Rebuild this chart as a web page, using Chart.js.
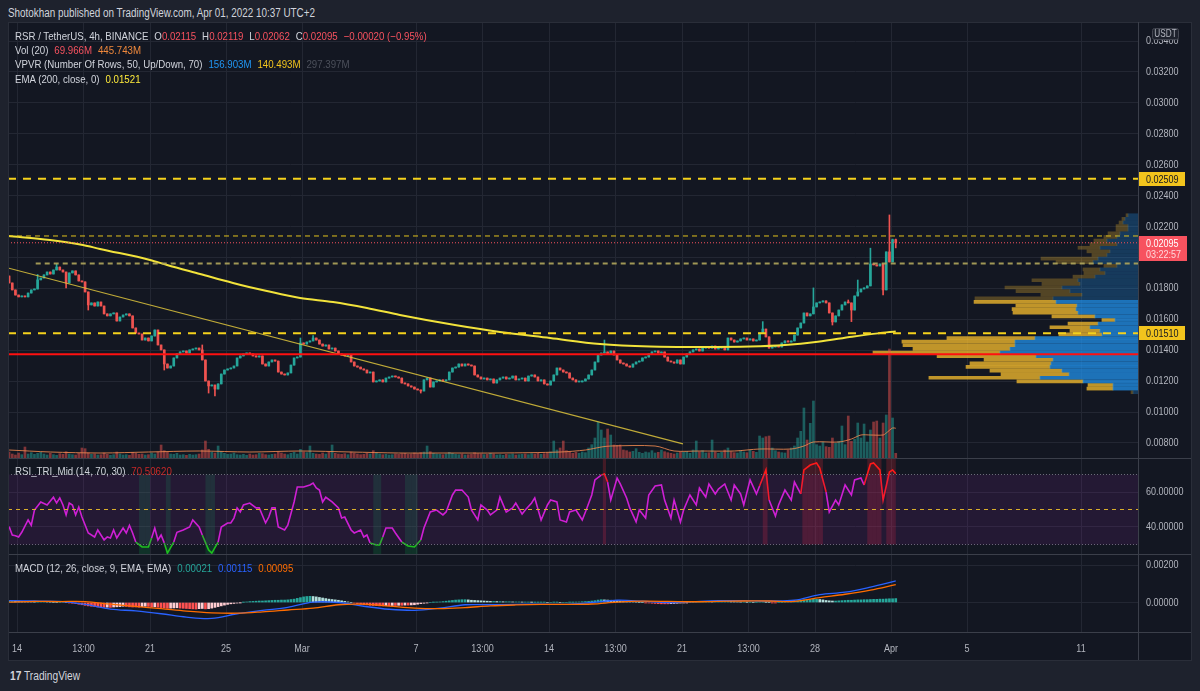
<!DOCTYPE html>
<html>
<head>
<meta charset="utf-8">
<title>RSR / TetherUS, 4h</title>
<script src="https://cdn.jsdelivr.net/npm/chart.js@4.4.1/dist/chart.umd.min.js"></script>
<style>
  body { margin: 0; width: 1200px; height: 691px; overflow: hidden; background: #1e222d;
         font-family: 'Liberation Sans', Arial, sans-serif; color: #d1d4dc; }
  #frame { position: absolute; left: 8px; top: 22px; width: 1184px; height: 638px; background: #131722; }
  canvas { position: absolute; left: 8px; }
  .hl { position: absolute; left: 8px; width: 1184px; height: 1px; background: #3b3f4a; }
  .vl { position: absolute; top: 22px; height: 638px; width: 1px; background: #3b3f4a; }
  .lg { position: absolute; left: 15px; font-size: 11.5px; line-height: 14px; white-space: nowrap;
        transform: scaleX(0.843); transform-origin: 0 0; }
  .lg > span { margin-right: 7px; }
  .lg i { font-style: normal; }
  .r { color: #f7525f; } .o { color: #f0893c; } .b { color: #2196f3; } .y { color: #f2c41d; }
  .g { color: #4c505b; } .e { color: #ffeb3b; } .dr { color: #c62828; }
  .t { color: #26a69a; } .mb { color: #2962ff; } .mo { color: #ff6d00; }
  #hdr { position: absolute; left: 8px; top: 6px; font-size: 12px; line-height: 14px; white-space: nowrap;
         transform: scaleX(0.823); transform-origin: 0 0; }
  #logo { position: absolute; left: 10px; top: 669px; font-size: 12px; line-height: 14px;
          transform: scaleX(0.85); transform-origin: 0 0; }
</style>
</head>
<body>
<div id="hdr">Shotokhan published on TradingView.com, Apr 01, 2022 10:37 UTC+2</div>
<div id="frame"></div>
<canvas id="main" width="1184" height="436" style="top:22px"></canvas>
<canvas id="rsi" width="1184" height="96" style="top:458px"></canvas>
<canvas id="macd" width="1184" height="106" style="top:554px"></canvas>

<div class="hl" style="top:22px;background:#2a2e39"></div>
<div class="hl" style="top:458px"></div>
<div class="hl" style="top:554px"></div>
<div class="hl" style="top:632px"></div>
<div class="hl" style="top:660px;background:#2a2e39"></div>
<div class="vl" style="left:1138px"></div>
<div class="vl" style="left:1191px;background:#2a2e39"></div>
<div class="vl" style="left:8px;background:#2a2e39"></div>

<div class="lg" style="top:29px"><span>RSR / TetherUS, 4h, BINANCE</span><span>O<i class="r">0.02115</i></span><span>H<i class="r">0.02119</i></span><span>L<i class="r">0.02062</i></span><span>C<i class="r">0.02095</i></span><span class="r">−0.00020 (−0.95%)</span></div>
<div class="lg" style="top:43px"><span>Vol (20)</span><span class="r">69.966M</span><span class="o">445.743M</span></div>
<div class="lg" style="top:57px"><span>VPVR (Number Of Rows, 50, Up/Down, 70)</span><span class="b">156.903M</span><span class="y">140.493M</span><span class="g">297.397M</span></div>
<div class="lg" style="top:72px"><span>EMA (200, close, 0)</span><span class="e">0.01521</span></div>
<div class="lg" style="top:464px"><span>RSI_TRI_Mid (14, 70, 30)</span><span class="dr">70.50620</span></div>
<div class="lg" style="top:561px"><span>MACD (12, 26, close, 9, EMA, EMA)</span><span class="t">0.00021</span><span class="mb">0.00115</span><span class="mo">0.00095</span></div>
<div id="logo"><b>17</b> TradingView</div>

<script>
// ---- price data (4h candles, Feb 13 14:00 -> Apr 01 06:00, index = candle number) ----
const firstOpen = 0.01880;
const closes = [
  0.01835,0.01790,0.01757,0.01745,0.01751,0.01745,0.01770,0.01790,0.01796,0.01855,
  0.01867,0.01887,0.01906,0.01893,0.01919,0.01938,0.01919,0.01906,0.01835,0.01900,
  0.01913,0.01887,0.01848,0.01842,0.01777,0.01693,0.01706,0.01686,0.01712,0.01686,
  0.01635,0.01622,0.01635,0.01641,0.01589,0.01615,0.01628,0.01635,0.01622,0.01544,
  0.01511,0.01505,0.01466,0.01479,0.01460,0.01492,0.01531,0.01434,0.01402,0.01311,
  0.01285,0.01298,0.01350,0.01376,0.01389,0.01395,0.01382,0.01402,0.01408,0.01414,
  0.01402,0.01337,0.01201,0.01169,0.01175,0.01149,0.01182,0.01246,0.01272,0.01279,
  0.01285,0.01298,0.01350,0.01363,0.01376,0.01382,0.01376,0.01363,0.01356,0.01363,
  0.01311,0.01298,0.01324,0.01337,0.01330,0.01259,0.01246,0.01240,0.01253,0.01304,
  0.01350,0.01356,0.01447,0.01440,0.01453,0.01460,0.01479,0.01466,0.01440,0.01427,
  0.01434,0.01408,0.01414,0.01395,0.01376,0.01369,0.01363,0.01369,0.01324,0.01298,
  0.01291,0.01279,0.01272,0.01253,0.01259,0.01195,0.01201,0.01208,0.01195,0.01220,
  0.01227,0.01233,0.01227,0.01220,0.01188,0.01182,0.01169,0.01162,0.01149,0.01143,
  0.01136,0.01208,0.01220,0.01162,0.01195,0.01201,0.01208,0.01201,0.01208,0.01259,
  0.01285,0.01291,0.01311,0.01298,0.01311,0.01304,0.01298,0.01240,0.01227,0.01214,
  0.01220,0.01208,0.01214,0.01188,0.01208,0.01220,0.01227,0.01214,0.01220,0.01233,
  0.01208,0.01214,0.01220,0.01201,0.01233,0.01240,0.01227,0.01201,0.01208,0.01182,
  0.01175,0.01201,0.01240,0.01285,0.01272,0.01259,0.01253,0.01220,0.01208,0.01195,
  0.01195,0.01201,0.01214,0.01240,0.01272,0.01324,0.01369,0.01382,0.01389,0.01376,
  0.01395,0.01369,0.01337,0.01317,0.01311,0.01298,0.01291,0.01311,0.01324,0.01330,
  0.01350,0.01356,0.01376,0.01389,0.01395,0.01382,0.01389,0.01356,0.01330,0.01324,
  0.01317,0.01337,0.01311,0.01356,0.01376,0.01389,0.01402,0.01408,0.01395,0.01414,
  0.01421,0.01414,0.01427,0.01408,0.01414,0.01421,0.01402,0.01479,0.01466,0.01453,
  0.01460,0.01473,0.01479,0.01466,0.01473,0.01460,0.01466,0.01511,0.01537,0.01486,
  0.01414,0.01421,0.01427,0.01421,0.01447,0.01460,0.01453,0.01460,0.01498,0.01544,
  0.01576,0.01641,0.01622,0.01635,0.01680,0.01706,0.01712,0.01719,0.01706,0.01641,
  0.01583,0.01622,0.01660,0.01693,0.01712,0.01706,0.01660,0.01751,0.01777,0.01796,
  0.01803,0.01816,0.01958,0.01952,0.01945,0.01958,0.01790,0.02036,0.01971,0.02115,
  0.02095
];
// visible wicks (candle index -> price)
const wickHigh = {9:0.01890, 15:0.01958, 61:0.01434, 92:0.01479, 96:0.01495, 188:0.01466, 238:0.01585,
                  254:0.01803, 265:0.01725, 268:0.01854, 272:0.02060, 278:0.02275, 279:0.02119, 280:0.02119};
const wickLow = {18:0.01803, 25:0.01660, 49:0.01272, 63:0.01123, 65:0.01104, 130:0.01123, 260:0.01563,
                 266:0.01585, 276:0.01757, 280:0.02062};

// volume, millions
const volumes = [
  90,60,45,75,50,165,60,80,55,70, 85,60,45,70,50,40,65,55,95,60,
  50,45,70,150,140,80,55,60,45,50, 75,55,40,50,90,60,45,50,40,85,
  70,55,60,45,50,75,60,90,195,110, 85,60,55,70,45,50,40,55,45,50,
  60,120,255,130,90,75,180,100,70,55, 60,75,50,45,55,40,60,45,50,70,
  65,50,45,55,60,90,75,60,50,70, 85,60,130,90,80,180,70,60,55,75,
  60,90,195,70,60,55,65,50,90,75, 60,50,55,70,60,110,80,60,50,55,
  45,50,60,55,65,70,55,60,75,65, 80,90,180,95,70,60,55,50,60,85,
  70,55,50,60,45,50,55,80,65,60, 50,55,70,60,45,50,40,55,50,60,
  45,50,55,60,50,65,60,70,55,65, 75,90,255,120,150,255,110,90,70,85,
  70,90,80,150,200,300,540,420,300,435, 345,195,190,195,120,110,90,100,140,85,
  70,90,80,110,75,85,120,95,80,70, 60,75,90,85,100,70,120,255,95,110,
  75,80,270,90,70,85,120,150,95,80, 75,110,90,80,120,100,85,330,300,320,
  330,150,110,90,80,75,120,150,180,300, 400,750,270,520,855,200,180,240,170,160,
  300,220,250,480,200,630,250,280,525,300, 510,240,420,540,555,300,525,645,1635,600,
  70
];
// Vol SMA(20): [candle, millions]
const volMA = [[0,120],[13,90],[29,75],[44,90],[60,105],[76,90],[92,105],[108,90],[123,75],[139,75],
  [155,75],[174,90],[182,120],[187,165],[190,180],[204,180],[210,105],[218,105],[229,105],[237,135],
  [247,135],[251,180],[254,240],[262,240],[266,285],[269,345],[272,345],[276,345],[277,375],[279,450],[280,446]];

// EMA 200: [candle, price]
const ema200 = [[-0.35,0.02139],[12.9,0.02113],[23.3,0.02081],[28.7,0.02055],[44.5,0.01984],[49.9,0.01951],
  [60.3,0.01893],[70.7,0.01835],[81.4,0.01783],[91.9,0.01738],[102.3,0.01712],[113,0.01673],[123.4,0.01628],
  [140.8,0.01563],[155,0.01518],[170.8,0.01479],[186.6,0.01440],[202.4,0.01424],[218.2,0.01421],
  [234,0.01424],[245,0.01434],[255.4,0.01455],[266.2,0.01487],[274.4,0.01509],[280,0.01521]];

// drawings
const trendLine = [[-0.35,0.01932],[212.8,0.00794]];
const levels = [0.02509, 0.02139, 0.01961, 0.01510, 0.01374];
const levelStart = [null, null, 8.4, null, null];

// VPVR, 50 rows top -> bottom, millions
const vpHigh = 0.02275, vpLow = 0.01107;
const vpUp = [66,86,99,66,66,119,139,205,139,251,185,205,264,297,139,251,218,284,396,383,
  502,449,370,561,541,403,409,396,284,152,264,317,251,238,680,812,812,845,911,673,
  561,574,581,502,455,647,363,165,165,33];
const vpDown = [13,20,26,79,79,79,86,86,178,145,152,99,376,244,86,112,139,145,304,251,
  376,356,271,515,541,403,422,429,284,86,198,264,198,284,581,746,739,640,838,653,
  455,535,554,475,449,733,436,165,172,13];
const vaRows = [24, 48];

// RSI_TRI_Mid: [candle, value]
const rsiPts = [[0,40.2],[1,35.4],[2,35],[3,34.3],[4,37],[6,44],[7,41],[8,49.7],[10,54.3],[12,52.6],[14,57],
  [15,53.7],[16,56.6],[17,52.6],[18,46.9],[19,53.7],[20,52.6],[21,46.9],[22,51.4],[23,45.7],[25,36.6],[27,34.3],
  [28,38.3],[30,32.6],[31,34.3],[32,33.7],[33,38.3],[34,33.7],[36,39.4],[37,36.6],[38,41],[39,36.6],[40,31.4],
  [42,28.6],[44,28.6],[45,33.7],[46,39.4],[47,32.6],[48,35.4],[49,30.9],[50,25.1],[52,31.4],[53,37],[55,38.3],
  [57,40],[58,44],[60,40],[61,35.4],[63,26.9],[64,25.1],[66,31.4],[67,40],[69,42.3],[70,42.3],[71,45.1],
  [72,50.9],[73,48.6],[74,52.6],[76,53.7],[78,50.9],[79,50.9],[81,42.3],[82,45.7],[83,50.9],[84,50.9],[85,40],
  [87,38.3],[88,41],[90,54.3],[91,62.9],[93,62.9],[95,64],[96,65.1],[97,62.3],[98,61.1],[99,54.3],[100,57],
  [102,54.3],[104,50.9],[105,45.1],[106,45.7],[108,38.3],[109,36.6],[111,38.3],[112,34.3],[113,35.4],[114,30.9],
  [116,29.7],[117,29.7],[118,34.3],[119,39.4],[121,39.4],[122,36.6],[124,31.4],[126,29.1],[128,28.6],[130,32.6],
  [131,39.4],[133,48.6],[135,49.7],[137,46.9],[138,48.6],[140,58.3],[141,61.1],[143,61.1],[145,57.1],[146,49.7],
  [148,44],[149,52.6],[151,49.7],[152,46.9],[154,49.7],[155,57.1],[157,48.6],[159,50.9],[160,53.7],[162,47.4],
  [163,49.7],[165,53.7],[166,56.6],[168,44],[170,52.6],[171,55.4],[173,54.3],[174,44],[176,42.9],[177,48.6],
  [179,49.7],[181,44],[182,48.6],[184,58.3],[185,66.9],[187,69.7],[188,70.3],[189,65.7],[190,55.4],[192,68],
  [193,64.6],[195,56.6],[196,50.9],[198,42.9],[199,49.7],[201,45.1],[202,58.3],[204,63.4],[206,64],[207,55.4],
  [209,45.1],[210,55.4],[212,42.9],[213,49.7],[215,58.3],[217,52.6],[218,62.3],[220,57.1],[221,64.6],[223,58.9],
  [224,61.7],[226,64.6],[228,55.4],[229,64],[231,58.9],[232,52.6],[234,66.9],[236,58.9],[237,63.4],[239,72.6],
  [240,55.4],[242,46.3],[243,52.6],[245,61.1],[247,55.4],[248,65.7],[250,58.9],[251,72.6],[253,75.4],[255,76.6],
  [256,73.7],[258,60],[259,48.6],[261,55.4],[262,52.6],[264,64],[266,58.3],[267,66.9],[269,68],[270,64],
  [272,76],[273,76.6],[275,72.6],[276,55.4],[278,71.4],[279,72.6],[280,70.51]];
const rsiLevels = [70, 50, 30];

// MACD (12,26,9): lines every 8 candles, histogram per candle (x1e-5)
const macdStep = 8;
const macdLine = [0.00010,0.00008,0.00006,-0.00010,-0.00035,-0.00045,-0.00060,-0.00078,-0.00085,-0.00060,
  -0.00042,-0.00026,0.00002,0.00000,-0.00020,-0.00036,-0.00042,-0.00030,-0.00012,-0.00012,-0.00010,-0.00009,
  -0.00010,0.00000,0.00012,0.00007,-0.00001,0.00005,0.00010,0.00010,0.00008,0.00012,0.00042,0.00055,0.00082,0.00115];
const signalLine = [0.00002,0.00006,0.00005,0.00005,-0.00009,-0.00021,-0.00033,-0.00046,-0.00055,-0.00057,
  -0.00050,-0.00040,-0.00030,-0.00012,-0.00009,-0.00019,-0.00030,-0.00033,-0.00027,-0.00018,-0.00013,-0.00010,
  -0.00010,-0.00008,0.00002,0.00007,0.00006,0.00004,0.00006,0.00008,0.00008,0.00006,0.00026,0.00044,0.00066,0.00095];
const macdHist = [
  8,9,8,7,6,5,4,3, 2,2,3,4,3,2,1,0, 1,2,1,-2,-4,-6,-9,-12, -15,-18,-20,-22,-24,-25,-26,-25,
  -26,-24,-23,-22,-20,-21,-23,-24, -24,-25,-22,-20,-21,-24,-23,-25, -27,-29,-31,-30,-29,-28,-30,-31,
  -32,-33,-34,-35,-33,-32,-34,-33, -30,-26,-22,-18,-14,-10,-7,-5, -3,-1,1,3,5,6,7,8,
  8,9,10,11,12,12,13,13, 14,16,18,22,26,30,32,33, 32,30,27,24,21,18,16,14,
  12,9,6,3,0,-3,-6,-9, -11,-13,-15,-16,-17,-18,-18,-17, -17,-16,-16,-15,-15,-14,-14,-13,
  -12,-9,-6,-4,-2,0,1,2, 3,5,7,9,11,13,14,15, 15,14,12,11,10,9,8,7,
  6,6,5,5,4,4,4,3, 3,3,2,2,2,1,1,1, 1,1,0,0,1,1,0,0, 0,1,1,2,3,4,5,6,
  8,10,13,15,14,13,12,11, 10,8,7,5,4,3,2,1, 0,-1,-2,-4,-5,-6,-7,-7, -7,-6,-5,-4,-3,-2,-1,0,
  1,2,3,4,5,5,4,4, 4,5,5,6,5,4,3,2, 2,1,1,0,1,2,2,1, 0,-1,-1,0,1,2,3,4,
  6,9,12,14,15,16,17,17, 16,14,11,9,8,8,9,10, 11,12,12,13,14,14,15,15, 16,17,17,18,18,19,20,20,
  21
];

// axes
const priceTicks = [0.008,0.010,0.012,0.014,0.016,0.018,0.020,0.022,0.024,0.026,0.028,0.030,0.032,0.034];
const rsiTicks = [40, 60];
const macdTicks = [0, 0.002];
const timeTickPos = [2.5,23.5,44.5,68.5,92.5,128.5,149.5,170.5,191.5,212.5,233.5,254.5,278.5,302.5,338.5];
const timeTickText = ['14','13:00','21','25','Mar','7','13:00','14','13:00','21','13:00','28','Apr','5','11'];

// ---- setup ----
const FONT = "'Liberation Sans', Arial, sans-serif";
const NARROW = 0.82;
const GRID = '#232733', TXT = '#b2b5be';
const X_MIN = -0.35, X_MAX = 356.5;
Chart.defaults.font.family = FONT;
Chart.defaults.color = TXT;

const opens = closes.map((c, i) => i ? closes[i - 1] : firstOpen);
const highs = closes.map((c, i) => wickHigh[i] ?? Math.max(c, opens[i]));
const lows = closes.map((c, i) => wickLow[i] ?? Math.min(c, opens[i]));
const isUp = closes.map((c, i) => c >= opens[i]);
const lastClose = closes[closes.length - 1];

const vpStep = (vpHigh - vpLow) / vpUp.length;
const vpPrice = vpUp.map((v, k) => vpHigh - (k + 0.5) * vpStep);
const inVA = k => k >= vaRows[0] && k <= vaRows[1];

function xAxis(labels) {
  return {
    type: 'linear', min: X_MIN, max: X_MAX, offset: false,
    grid: { color: GRID, drawTicks: false, offset: false },
    border: { display: false },
    ticks: { display: false },
    afterBuildTicks: s => { s.ticks = timeTickPos.map(v => ({ value: v })); },
    afterFit: s => { s.height = labels ? 28 : 0; s.paddingLeft = 0; s.paddingRight = 0; }
  };
}
function yAxis(min, max, ticks) {
  return {
    type: 'linear', position: 'right', min, max, offset: false,
    grid: { color: GRID, drawTicks: false, offset: false },
    border: { display: false },
    ticks: { display: false },
    afterBuildTicks: s => { s.ticks = ticks.map(v => ({ value: v })); },
    afterFit: s => { s.width = 54; s.paddingTop = 0; s.paddingBottom = 0; }
  };
}
const flat = (p, from) => [{ x: from ?? X_MIN, y: p }, { x: X_MAX, y: p }];
const base = { responsive: false, animation: false, events: [], layout: { padding: 0 } };

// TradingView's axis font is narrow; draw tick labels condensed
function narrowText(ctx, text, x, y, align) {
  ctx.save();
  ctx.translate(x, y);
  ctx.scale(NARROW, 1);
  ctx.textAlign = align;
  ctx.fillText(text, 0, 0);
  ctx.restore();
}
const tickLabels = {
  id: 'tickLabels',
  afterDraw(chart, args, opts) {
    const { ctx, chartArea: a, scales: { x, y } } = chart;
    ctx.save();
    ctx.font = '11px ' + FONT;
    ctx.fillStyle = TXT;
    ctx.textBaseline = 'middle';
    y.ticks.forEach(t => narrowText(ctx, t.value.toFixed(5), a.right + 8, y.getPixelForValue(t.value), 'left'));
    if (opts.time) {
      x.ticks.forEach((t, i) => narrowText(ctx, timeTickText[i], x.getPixelForValue(t.value), a.bottom + 17, 'center'));
    }
    ctx.restore();
  }
};

// price axis marks: level boxes, last price + countdown, currency
const axisBoxes = {
  id: 'axisBoxes',
  afterDraw(chart) {
    const { ctx, chartArea: a, scales: { y } } = chart;
    ctx.save();
    ctx.font = '11px ' + FONT;
    ctx.textBaseline = 'middle';
    [levels[0], levels[3]].forEach(p => {
      const py = Math.round(y.getPixelForValue(p));
      ctx.fillStyle = '#f2c41d';
      ctx.fillRect(a.right, py - 7, 47, 14);
      ctx.fillStyle = '#131722';
      narrowText(ctx, p.toFixed(5), a.right + 8, py + 0.5, 'left');
    });
    const py = Math.round(y.getPixelForValue(lastClose));
    ctx.fillStyle = '#f7525f';
    ctx.fillRect(a.right, py - 7, 49, 25);
    ctx.fillStyle = '#ffffff';
    narrowText(ctx, lastClose.toFixed(5), a.right + 8, py + 0.5, 'left');
    ctx.fillStyle = '#ffd6da';
    narrowText(ctx, '03:22:57', a.right + 8, py + 12, 'left');
    ctx.fillStyle = '#1e222d';
    ctx.strokeStyle = '#434651';
    ctx.beginPath();
    ctx.roundRect(a.right + 14.5, 6.5, 26, 11, 2);
    ctx.fill(); ctx.stroke();
    ctx.fillStyle = TXT;
    ctx.font = '10px ' + FONT;
    narrowText(ctx, 'USDT', a.right + 27.5, 12.5, 'center');
    ctx.restore();
  }
};

// main pane
new Chart(document.getElementById('main'), {
  type: 'bar',
  data: { datasets: [
    { indexAxis: 'y', xAxisID: 'xv', yAxisID: 'y', stack: 'vp', order: 30, barThickness: 3,
      data: vpUp.map((v, k) => ({ x: v, y: vpPrice[k] })),
      backgroundColor: c => inVA(c.dataIndex) ? 'rgba(33,150,243,0.72)' : 'rgba(33,150,243,0.28)' },
    { indexAxis: 'y', xAxisID: 'xv', yAxisID: 'y', stack: 'vp', order: 30, barThickness: 3,
      data: vpDown.map((v, k) => ({ x: v, y: vpPrice[k] })),
      backgroundColor: c => inVA(c.dataIndex) ? 'rgba(251,192,45,0.75)' : 'rgba(251,192,45,0.28)' },
    { xAxisID: 'x', yAxisID: 'yv', order: 25, grouped: false, barThickness: 2,
      data: volumes.map((v, i) => ({ x: i, y: v })),
      backgroundColor: c => isUp[c.dataIndex] ? 'rgba(38,166,154,0.5)' : 'rgba(239,83,80,0.5)' },
    { type: 'line', xAxisID: 'x', yAxisID: 'yv', order: 24, data: volMA.map(([x, y]) => ({ x, y })),
      borderColor: 'rgba(240,137,80,0.85)', borderWidth: 1, pointRadius: 0, tension: 0.3 },
    { xAxisID: 'x', yAxisID: 'y', order: 20, grouped: false, barThickness: 1,
      data: closes.map((c, i) => ({ x: i, y: [lows[i], highs[i]] })),
      backgroundColor: c => isUp[c.dataIndex] ? '#26a69a' : '#ef5350' },
    { xAxisID: 'x', yAxisID: 'y', order: 19, grouped: false, barThickness: 2, minBarLength: 1,
      data: closes.map((c, i) => ({ x: i, y: [opens[i], c] })),
      backgroundColor: c => isUp[c.dataIndex] ? '#26a69a' : '#ef5350' },
    { type: 'line', xAxisID: 'x', yAxisID: 'y', order: 6, data: ema200.map(([x, y]) => ({ x, y })),
      borderColor: '#f2e33b', borderWidth: 2, pointRadius: 0, cubicInterpolationMode: 'monotone' },
    { type: 'line', xAxisID: 'x', yAxisID: 'y', order: 5, data: trendLine.map(([x, y]) => ({ x, y })),
      borderColor: 'rgba(222,196,60,0.85)', borderWidth: 1.2, pointRadius: 0 },
    { type: 'line', xAxisID: 'x', yAxisID: 'y', order: 4, data: flat(levels[0]),
      borderColor: '#f5d21c', borderWidth: 2, borderDash: [8, 7], pointRadius: 0 },
    { type: 'line', xAxisID: 'x', yAxisID: 'y', order: 4, data: flat(levels[1]),
      borderColor: '#e2c21c', borderWidth: 1, borderDash: [5, 4], pointRadius: 0 },
    { type: 'line', xAxisID: 'x', yAxisID: 'y', order: 4, data: flat(levels[2], levelStart[2]),
      borderColor: 'rgba(176,166,92,0.9)', borderWidth: 2, borderDash: [5, 4], pointRadius: 0 },
    { type: 'line', xAxisID: 'x', yAxisID: 'y', order: 4, data: flat(levels[3]),
      borderColor: '#f5d21c', borderWidth: 2, borderDash: [8, 7], pointRadius: 0 },
    { type: 'line', xAxisID: 'x', yAxisID: 'y', order: 3, data: flat(levels[4]),
      borderColor: '#ff1010', borderWidth: 2, pointRadius: 0 },
    { type: 'line', xAxisID: 'x', yAxisID: 'y', order: 2, data: flat(lastClose),
      borderColor: '#f7525f', borderWidth: 1, borderDash: [1, 2], pointRadius: 0 }
  ]},
  options: { ...base,
    plugins: { legend: { display: false }, tooltip: { enabled: false }, tickLabels: { time: false } },
    scales: {
      x: xAxis(false),
      xv: { type: 'linear', display: false, reverse: true, offset: false, min: 0, max: 7458, stacked: true },
      y: yAxis(0.007029, 0.03523, priceTicks),
      yv: { type: 'linear', display: false, offset: false, min: 0, max: 6540 }
    }
  },
  plugins: [tickLabels, axisBoxes]
});

// RSI pane: overbought / oversold columns, drawn just before the RSI line
const rsiZones = {
  id: 'rsiZones',
  beforeDatasetDraw(chart, args) {
    if (args.index !== 3) return;
    const { ctx, chartArea: a, scales: { x, y } } = chart;
    ctx.save();
    rsiPts.forEach((p, k) => {
      if (p[1] >= 30 && p[1] <= 70) return;
      const prev = rsiPts[k - 1] || p, next = rsiPts[k + 1] || p;
      const x0 = x.getPixelForValue((prev[0] + p[0]) / 2), x1 = x.getPixelForValue((p[0] + next[0]) / 2);
      if (p[1] < 30) {
        ctx.fillStyle = 'rgba(10,150,70,0.22)';
        const t = y.getPixelForValue(rsiLevels[0]);
        ctx.fillRect(x0, t, x1 - x0, a.bottom - t);
      } else {
        ctx.fillStyle = 'rgba(210,40,50,0.25)';
        ctx.fillRect(x0, a.top, x1 - x0, y.getPixelForValue(rsiLevels[2]) - a.top);
      }
    });
    ctx.restore();
  }
};
const RSI_COL = '#d61fd9';
new Chart(document.getElementById('rsi'), {
  type: 'line',
  data: { datasets: [
    { data: flat(rsiLevels[0]), borderColor: '#6a6d78', borderWidth: 1, borderDash: [1, 2], pointRadius: 0,
      fill: { value: rsiLevels[2] }, backgroundColor: 'rgba(156,39,176,0.13)' },
    { data: flat(rsiLevels[2]), borderColor: '#6a6d78', borderWidth: 1, borderDash: [1, 2], pointRadius: 0 },
    { data: flat(rsiLevels[1]), borderColor: '#e6c619', borderWidth: 1, borderDash: [4, 4], pointRadius: 0 },
    { data: rsiPts.map(([x, y]) => ({ x, y })), borderColor: RSI_COL, borderWidth: 1.6, pointRadius: 0,
      segment: { borderColor: c => (c.p0.parsed.y > 70 || c.p1.parsed.y > 70) ? '#ff1a1a'
                                 : (c.p0.parsed.y < 30 || c.p1.parsed.y < 30) ? '#1fbf1f' : RSI_COL } }
  ]},
  options: { ...base,
    plugins: { legend: { display: false }, tooltip: { enabled: false }, tickLabels: { time: false } },
    scales: { x: xAxis(false), y: yAxis(24.57, 79.43, rsiTicks) } },
  plugins: [rsiZones, tickLabels]
});

// MACD pane + time axis
new Chart(document.getElementById('macd'), {
  type: 'bar',
  data: { datasets: [
    { order: 3, grouped: false, barThickness: 2, data: macdHist.map((v, i) => ({ x: i, y: v * 1e-5 })),
      backgroundColor: c => {
        const i = c.dataIndex, v = macdHist[i], p = i ? macdHist[i - 1] : v;
        return v >= 0 ? (v >= p ? '#26a69a' : '#b2dfdb') : (v <= p ? '#ff5252' : '#ffcdd2');
      } },
    { type: 'line', order: 2, data: macdLine.map((v, k) => ({ x: k * macdStep, y: v })),
      borderColor: '#2962ff', borderWidth: 1.3, pointRadius: 0, tension: 0.35 },
    { type: 'line', order: 1, data: signalLine.map((v, k) => ({ x: k * macdStep, y: v })),
      borderColor: '#ff6d00', borderWidth: 1.3, pointRadius: 0, tension: 0.35 }
  ]},
  options: { ...base,
    plugins: { legend: { display: false }, tooltip: { enabled: false }, tickLabels: { time: true } },
    scales: { x: xAxis(true), y: yAxis(-0.001573, 0.002587, macdTicks) } },
  plugins: [tickLabels]
});
</script>
</body>
</html>
